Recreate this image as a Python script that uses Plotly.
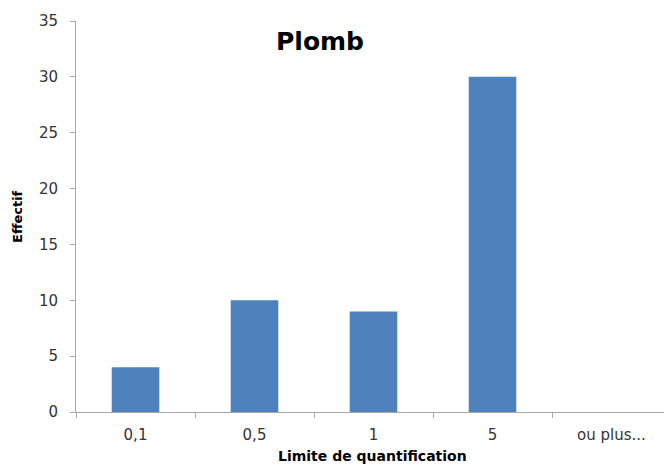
import plotly.graph_objects as go

categories = ["0,1", "0,5", "1", "5", "ou plus..."]
effectif = [4, 10, 9, 30, 0]
y_ticks = [0, 5, 10, 15, 20, 25, 30, 35]

W, H = 664, 466
L, R, T, B = 76, 0, 21, 54
pw = W - L - R
ph = H - T - B

def px_x(px):
    return (px - L) / pw

def px_y(py):
    return (H - B - py) / ph

fig = go.Figure(
    go.Bar(
        x=categories,
        y=effectif,
        marker=dict(color="#4F81BD", line=dict(width=0)),
        width=0.4,
    )
)

fig.update_layout(
    width=W,
    height=H,
    margin=dict(l=L, r=R, t=T, b=B),
    paper_bgcolor="white",
    plot_bgcolor="white",
    showlegend=False,
    font=dict(family="DejaVu Sans", color="#404040", size=15),
    annotations=[
        dict(
            text="<b>Plomb</b>",
            x=px_x(320), y=px_y(41), xref="paper", yref="paper",
            showarrow=False, font=dict(size=25, color="black", family="DejaVu Sans"),
            yanchor="middle", xanchor="center",
        ),
        dict(
            text="<b>Limite de quantification</b>",
            x=px_x(373), y=px_y(456), xref="paper", yref="paper",
            showarrow=False, font=dict(size=14, color="black", family="DejaVu Sans"),
            yanchor="middle", xanchor="center",
        ),
        dict(
            text="<b>Effectif</b>",
            x=px_x(17), y=px_y(217), xref="paper", yref="paper",
            showarrow=False, textangle=-90, font=dict(size=13, color="black", family="DejaVu Sans"),
            yanchor="middle", xanchor="center",
        ),
    ],
)

fig.update_xaxes(
    type="category",
    range=[-0.5, -0.5 + pw / 119],
    showline=True, linecolor="#A6A6A6", linewidth=1,
    ticks="outside", tickson="boundaries", ticklen=5, tickcolor="#A6A6A6",
    showgrid=False, zeroline=False,
    tickfont=dict(size=15, color="#333333"),
    ticklabelstandoff=9,
)
fig.update_yaxes(
    range=[0, 35],
    tickvals=y_ticks,
    showline=True, linecolor="#A6A6A6", linewidth=1,
    ticks="outside", ticklen=5, tickcolor="#A6A6A6",
    showgrid=False, zeroline=False,
    tickfont=dict(size=15, color="#333333"),
    ticklabelstandoff=9,
)

fig.write_html("out.html")
